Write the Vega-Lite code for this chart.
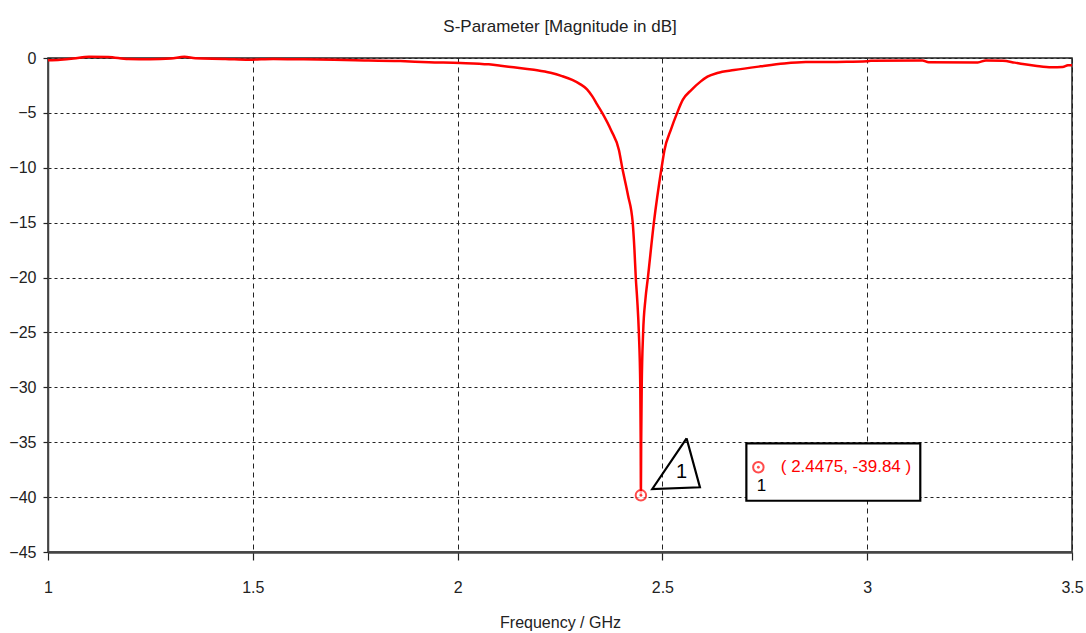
{
  "$schema": "https://vega.github.io/schema/vega-lite/v6.json",
  "width": 1024,
  "height": 494,
  "autosize": {"type": "none"},
  "padding": {"left": 48, "top": 58, "right": 14, "bottom": 81},
  "background": "white",
  "config": {
    "font": "Liberation Sans",
    "view": {"stroke": "#222", "strokeWidth": 1.5}
  },
  "title": {
    "text": "S-Parameter [Magnitude in dB]",
    "fontSize": 17,
    "fontWeight": "normal",
    "color": "#222",
    "anchor": "middle",
    "frame": "group",
    "baseline": "alphabetic",
    "offset": 1
  },
  "datasets": {
    "curve": [
      {"f": 1.000, "db": -0.2},
      {"f": 1.030, "db": -0.15},
      {"f": 1.062, "db": -0.05},
      {"f": 1.100, "db": 0.12},
      {"f": 1.147, "db": 0.1},
      {"f": 1.196, "db": -0.1},
      {"f": 1.249, "db": -0.12},
      {"f": 1.300, "db": -0.05},
      {"f": 1.333, "db": 0.12},
      {"f": 1.360, "db": -0.03},
      {"f": 1.433, "db": -0.08},
      {"f": 1.490, "db": -0.15},
      {"f": 1.550, "db": -0.08},
      {"f": 1.624, "db": -0.12},
      {"f": 1.750, "db": -0.2},
      {"f": 1.860, "db": -0.28},
      {"f": 1.930, "db": -0.38},
      {"f": 2.007, "db": -0.45},
      {"f": 2.076, "db": -0.58},
      {"f": 2.105, "db": -0.7},
      {"f": 2.137, "db": -0.85},
      {"f": 2.170, "db": -1.0},
      {"f": 2.194, "db": -1.12},
      {"f": 2.227, "db": -1.35},
      {"f": 2.255, "db": -1.65},
      {"f": 2.280, "db": -2.0},
      {"f": 2.300, "db": -2.4},
      {"f": 2.316, "db": -2.85},
      {"f": 2.329, "db": -3.5},
      {"f": 2.341, "db": -4.25},
      {"f": 2.353, "db": -5.0},
      {"f": 2.375, "db": -6.6},
      {"f": 2.394, "db": -8.4},
      {"f": 2.402, "db": -10.0},
      {"f": 2.416, "db": -12.5},
      {"f": 2.4275, "db": -15.0},
      {"f": 2.4318, "db": -17.5},
      {"f": 2.4350, "db": -20.0},
      {"f": 2.4385, "db": -22.0},
      {"f": 2.4425, "db": -25.0},
      {"f": 2.4460, "db": -30.0},
      {"f": 2.4470, "db": -35.0},
      {"f": 2.4475, "db": -39.84},
      {"f": 2.4482, "db": -35.0},
      {"f": 2.4495, "db": -30.0},
      {"f": 2.4530, "db": -25.0},
      {"f": 2.4585, "db": -22.0},
      {"f": 2.4646, "db": -20.0},
      {"f": 2.4792, "db": -15.0},
      {"f": 2.4980, "db": -10.0},
      {"f": 2.5050, "db": -8.4},
      {"f": 2.5210, "db": -6.5},
      {"f": 2.5360, "db": -5.0},
      {"f": 2.5500, "db": -3.8},
      {"f": 2.571, "db": -2.9},
      {"f": 2.593, "db": -2.15},
      {"f": 2.610, "db": -1.7},
      {"f": 2.634, "db": -1.37},
      {"f": 2.675, "db": -1.1},
      {"f": 2.740, "db": -0.76},
      {"f": 2.797, "db": -0.5},
      {"f": 2.850, "db": -0.37},
      {"f": 2.950, "db": -0.35},
      {"f": 3.000, "db": -0.3},
      {"f": 3.009, "db": -0.25},
      {"f": 3.135, "db": -0.22},
      {"f": 3.150, "db": -0.38},
      {"f": 3.270, "db": -0.4},
      {"f": 3.290, "db": -0.22},
      {"f": 3.331, "db": -0.25},
      {"f": 3.360, "db": -0.42},
      {"f": 3.380, "db": -0.55},
      {"f": 3.410, "db": -0.7},
      {"f": 3.450, "db": -0.85},
      {"f": 3.477, "db": -0.82},
      {"f": 3.490, "db": -0.67},
      {"f": 3.500, "db": -0.65}
    ],
    "marker": [{"f": 2.4475, "db": -39.84}],
    "triangle": [
      {"i": 0, "f": 2.5590, "db": -34.64},
      {"i": 1, "f": 2.4753, "db": -39.26},
      {"i": 2, "f": 2.5916, "db": -39.10},
      {"i": 3, "f": 2.5590, "db": -34.64}
    ],
    "box": [{"f1": 2.705, "f2": 3.1296, "d1": -35.1, "d2": -40.33}],
    "boxmarker": [{"f": 2.7343, "db": -37.28}],
    "centerlabels": [
      {"f": 2.547, "db": -37.7, "t": "1", "s": 20},
      {"f": 2.742, "db": -39.0, "t": "1", "s": 17}
    ],
    "readout": [
      {"f": 2.789, "db": -37.23, "t": "( 2.4475, -39.84 )"}
    ]
  },
  "layer": [
    {
      "data": {"name": "curve"},
      "mark": {"type": "line", "color": "#ff0000", "strokeWidth": 2.5, "clip": false, "interpolate": "monotone"},
      "encoding": {
        "x": {
          "field": "f", "type": "quantitative",
          "scale": {"domain": [1, 3.5], "nice": false, "zero": false},
          "axis": {
            "title": "Frequency / GHz",
            "titleFontSize": 16, "titleFontWeight": "normal", "titleColor": "#222", "titlePadding": 19,
            "values": [1, 1.5, 2, 2.5, 3, 3.5],
            "format": "~g",
            "labelFontSize": 16, "labelColor": "#222", "labelPadding": 19,
            "labelFlush": false, "labelOverlap": false,
            "tickSize": 8, "tickColor": "#222", "tickWidth": 1.2,
            "domainColor": "#444", "domainWidth": 2.5,
            "grid": true, "gridColor": "#222", "gridDash": [5, 4], "gridWidth": 1, "gridOpacity": 1
          }
        },
        "y": {
          "field": "db", "type": "quantitative",
          "scale": {"domain": [-45, 0], "nice": false, "zero": false},
          "axis": {
            "title": null,
            "values": [-45, -40, -35, -30, -25, -20, -15, -10, -5, 0],
            "format": "d",
            "labelFontSize": 16, "labelColor": "#222", "labelPadding": 7,
            "labelFlush": false, "labelOverlap": false,
            "tickSize": 5, "tickColor": "#222", "tickWidth": 1.2,
            "domainColor": "#444", "domainWidth": 1.5,
            "grid": true, "gridColor": "#222", "gridDash": [3, 3], "gridWidth": 1, "gridOpacity": 1
          }
        }
      }
    },
    {
      "data": {"name": "marker"},
      "mark": {"type": "point", "shape": "circle", "filled": true, "fill": "white", "stroke": "#ff0000", "strokeWidth": 2, "size": 110},
      "encoding": {
        "x": {"field": "f", "type": "quantitative"},
        "y": {"field": "db", "type": "quantitative"}
      }
    },
    {
      "data": {"name": "marker"},
      "mark": {"type": "point", "shape": "circle", "filled": true, "color": "#ff0000", "size": 8},
      "encoding": {
        "x": {"field": "f", "type": "quantitative"},
        "y": {"field": "db", "type": "quantitative"}
      }
    },
    {
      "data": {"name": "triangle"},
      "mark": {"type": "line", "color": "black", "strokeWidth": 2.2, "strokeJoin": "miter"},
      "encoding": {
        "x": {"field": "f", "type": "quantitative"},
        "y": {"field": "db", "type": "quantitative"},
        "order": {"field": "i", "type": "quantitative"}
      }
    },
    {
      "data": {"name": "box"},
      "mark": {"type": "rect", "fill": "white", "stroke": "black", "strokeWidth": 2.2},
      "encoding": {
        "x": {"field": "f1", "type": "quantitative"},
        "x2": {"field": "f2"},
        "y": {"field": "d1", "type": "quantitative"},
        "y2": {"field": "d2"}
      }
    },
    {
      "data": {"name": "boxmarker"},
      "mark": {"type": "point", "shape": "circle", "filled": true, "fill": "white", "stroke": "#ff0000", "strokeWidth": 2, "size": 110},
      "encoding": {
        "x": {"field": "f", "type": "quantitative"},
        "y": {"field": "db", "type": "quantitative"}
      }
    },
    {
      "data": {"name": "boxmarker"},
      "mark": {"type": "point", "shape": "circle", "filled": true, "color": "#ff0000", "size": 8},
      "encoding": {
        "x": {"field": "f", "type": "quantitative"},
        "y": {"field": "db", "type": "quantitative"}
      }
    },
    {
      "data": {"name": "centerlabels"},
      "mark": {"type": "text", "baseline": "middle", "align": "center", "color": "black"},
      "encoding": {
        "x": {"field": "f", "type": "quantitative"},
        "y": {"field": "db", "type": "quantitative"},
        "text": {"field": "t"},
        "size": {"field": "s", "type": "quantitative", "scale": null}
      }
    },
    {
      "data": {"name": "readout"},
      "mark": {"type": "text", "baseline": "middle", "align": "left", "color": "#ff0000", "fontSize": 17},
      "encoding": {
        "x": {"field": "f", "type": "quantitative"},
        "y": {"field": "db", "type": "quantitative"},
        "text": {"field": "t"}
      }
    }
  ]
}
